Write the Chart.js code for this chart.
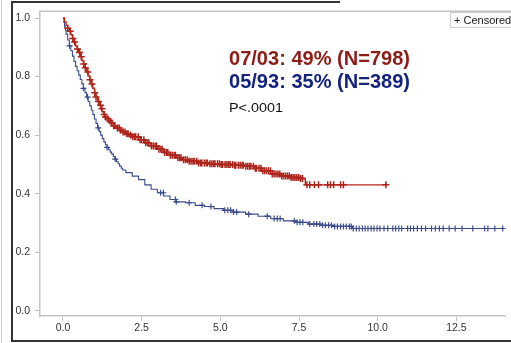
<!DOCTYPE html>
<html>
<head>
<meta charset="utf-8">
<script src="https://cdn.jsdelivr.net/npm/chart.js@4"></script>
<style>
    html, body { margin: 0; padding: 0; background: #fff; }
    #wrap { position: relative; width: 511px; height: 343px; }
</style>
</head>
<body>
<div id="wrap"><canvas id="kmChart"></canvas></div>
<script>
// Survival curve, era 07/03 (years, survival probability)
const redTime = [0, 0.05, 0.1, 0.15, 0.2, 0.25, 0.3, 0.35, 0.4, 0.45, 0.5, 0.55, 0.6, 0.65, 0.7, 0.75, 0.8, 0.85, 0.9, 0.95,
    1.0, 1.05, 1.1, 1.15, 1.2, 1.25, 1.3, 1.35, 1.4, 1.45, 1.5, 1.6, 1.7, 1.8, 1.9, 2.0, 2.1,
    2.2, 2.4, 2.6, 2.8, 3.0, 3.2, 3.4, 3.6, 3.8, 4.0, 4.3, 4.6, 5.0, 5.4, 5.8, 6.1, 6.3, 6.6, 6.9, 7.2, 7.5, 7.7, 10.26];
const redSurv = [1.0, 0.987, 0.975, 0.965, 0.955, 0.943, 0.93, 0.918, 0.905, 0.894, 0.882, 0.868, 0.855, 0.843, 0.83, 0.816, 0.802, 0.789, 0.775, 0.76,
    0.745, 0.73, 0.715, 0.702, 0.69, 0.68, 0.67, 0.662, 0.655, 0.648, 0.642, 0.632, 0.624, 0.617, 0.611, 0.605, 0.6,
    0.594, 0.584, 0.574, 0.563, 0.552, 0.541, 0.531, 0.523, 0.516, 0.511, 0.505, 0.502, 0.5, 0.497, 0.494, 0.487, 0.478, 0.467, 0.46, 0.455, 0.452, 0.43, 0.43];

// Survival curve, era 05/93
const blueTime = [0, 0.03, 0.05, 0.08, 0.1, 0.15, 0.2, 0.25, 0.3, 0.35, 0.4, 0.45, 0.5, 0.55, 0.6, 0.65, 0.7, 0.75, 0.8, 0.85, 0.9, 0.95,
    1.0, 1.05, 1.1, 1.15, 1.2, 1.25, 1.3, 1.35, 1.4, 1.45, 1.5, 1.55, 1.6, 1.65, 1.7, 1.75, 1.8, 1.85, 1.9, 2.0,
    2.2, 2.4, 2.6, 2.8, 3.0, 3.2, 3.4, 3.6, 3.9, 4.2, 4.5, 4.8, 5.1, 5.4, 5.8, 6.2, 6.6, 7.0, 7.4, 7.8, 8.2, 8.6, 9.2, 14.1];
const blueSurv = [1.0, 0.985, 0.97, 0.957, 0.945, 0.925, 0.905, 0.888, 0.87, 0.852, 0.835, 0.82, 0.805, 0.79, 0.775, 0.76, 0.745, 0.73, 0.715, 0.7, 0.685, 0.67,
    0.655, 0.64, 0.625, 0.612, 0.6, 0.588, 0.577, 0.567, 0.558, 0.55, 0.542, 0.535, 0.527, 0.518, 0.51, 0.502, 0.494, 0.487, 0.481, 0.472,
    0.46, 0.448, 0.43, 0.415, 0.403, 0.392, 0.38, 0.372, 0.369, 0.36, 0.356, 0.349, 0.343, 0.337, 0.33, 0.323, 0.315, 0.307, 0.302, 0.296, 0.292, 0.288, 0.281, 0.281];

// Censoring times
const redCensor = [0.15, 0.23, 0.31, 0.37, 0.46, 0.53, 0.58, 0.66, 0.71, 0.79, 0.86, 0.92, 1.01, 1.05, 1.13, 1.19, 1.24, 1.31, 1.35, 1.43,
    1.49, 1.55, 1.61, 1.65, 1.73, 1.79, 1.83, 1.91, 1.97, 2.03, 2.07, 2.15, 2.21, 2.27, 2.31, 2.39, 2.45, 2.49, 2.57, 2.63, 2.69,
    2.73, 2.81, 2.87, 2.93, 2.97, 3.05, 3.11, 3.15, 3.23, 3.29, 3.33, 3.41, 3.47, 3.53, 3.57, 3.65, 3.71, 3.75, 3.83, 3.89, 3.95,
    4.01, 4.07, 4.13, 4.17, 4.25, 4.31, 4.37, 4.41, 4.49, 4.55, 4.59, 4.67, 4.73, 4.79, 4.83, 4.91, 4.97, 5.03, 5.07, 5.15, 5.21,
    5.27, 5.31, 5.39, 5.45, 5.49, 5.57, 5.63, 5.69, 5.73, 5.81, 5.87, 5.93, 5.97, 6.05, 6.11, 6.15, 6.23, 6.29, 6.35, 6.41, 6.47,
    6.53, 6.59, 6.65, 6.71, 6.77, 6.83, 6.89, 6.95, 7.01, 7.07, 7.13, 7.19, 7.25, 7.31, 7.37, 7.43, 7.49, 7.55, 7.61,
    7.75, 7.84, 7.99, 8.12, 8.41, 8.5, 8.6, 8.82, 8.91, 10.26];
const blueCensor = [0.21, 0.65, 0.78, 1.12, 1.40, 1.66, 3.10, 3.19, 3.57, 3.60, 4.01, 4.42, 4.70, 5.14, 5.24, 5.33, 5.42, 5.52,
    5.90, 6.49, 6.71, 6.81, 6.90, 7.35, 7.44, 7.53, 7.62, 7.84, 7.97, 8.06, 8.16, 8.25, 8.34, 8.44, 8.53, 8.63, 8.72, 8.82, 8.91,
    9.00, 9.10, 9.16, 9.22, 9.32, 9.41, 9.51, 9.60, 9.69, 9.79, 9.88, 9.98, 10.07, 10.20, 10.32, 10.48, 10.57, 10.67, 10.76,
    10.95, 11.04, 11.14, 11.26, 11.39, 11.52, 11.71, 11.83, 11.96, 12.08, 12.27, 12.46, 12.68, 13.02, 13.40, 13.50, 13.72, 13.97];

const xTicks = [0, 2.5, 5, 7.5, 10, 12.5];
const yTicks = [0, 0.2, 0.4, 0.6, 0.8, 1.0];

const notes = [
    { text: '07/03: 49% (N=798)', color: '#8c1c17' },
    { text: '05/93: 35% (N=389)', color: '#14237f' },
    { text: 'P<.0001', color: '#111' }
];

const RED = '#b3261c';
const BLUE = '#3b4b8c';

// step-function value at time t (KM style: holds until the next event)
function survAt(times, surv, t) {
    let s = surv[0];
    for (let i = 0; i < times.length; i++) {
        if (times[i] <= t) s = surv[i];
        else break;
    }
    return s;
}

function curvePoints(times, surv) {
    return times.map((t, i) => ({ x: t, y: surv[i] }));
}

function censorPoints(cens, times, surv) {
    return cens.map(t => ({ x: t, y: survAt(times, surv, t) }));
}

// outer frame, top border of the plot, legend box and the text block
const decorPlugin = {
    id: 'decor',
    afterDraw(chart) {
        const ctx = chart.ctx;
        const area = chart.chartArea;
        ctx.save();

        // plot top border
        ctx.strokeStyle = '#c4c4c4';
        ctx.lineWidth = 1.5;
        ctx.beginPath();
        ctx.moveTo(area.left, area.top);
        ctx.lineTo(chart.width, area.top);
        ctx.stroke();

        // outer dark frame
        ctx.strokeStyle = '#333';
        ctx.lineWidth = 2;
        ctx.beginPath();
        ctx.moveTo(340, 2);
        ctx.lineTo(12, 2);
        ctx.lineTo(12, 341);
        ctx.lineTo(chart.width, 341);
        ctx.stroke();
        ctx.strokeStyle = '#d0d0d0';
        ctx.lineWidth = 1;
        ctx.beginPath();
        ctx.moveTo(1.5, 0);
        ctx.lineTo(1.5, chart.height);
        ctx.stroke();

        // legend box
        ctx.fillStyle = '#fafafa';
        ctx.fillRect(450.5, 12.5, 70, 15);
        ctx.strokeStyle = '#cfcfcf';
        ctx.lineWidth = 1;
        ctx.strokeRect(450.5, 12.5, 70, 15);
        ctx.fillStyle = '#222';
        ctx.font = '11px "Liberation Sans", Arial, sans-serif';
        ctx.textBaseline = 'alphabetic';
        ctx.textAlign = 'left';
        ctx.fillText('+ Censored', 454, 24);

        // annotation block
        const fitText = (txt, x, y, font, color, width) => {
            ctx.font = font;
            ctx.fillStyle = color;
            const w = ctx.measureText(txt).width;
            ctx.save();
            ctx.translate(x, y);
            ctx.scale(width / w, 1);
            ctx.fillText(txt, 0, 0);
            ctx.restore();
        };
        fitText(notes[0].text, 229, 65, 'bold 21px "Liberation Sans", Arial, sans-serif', notes[0].color, 181);
        fitText(notes[1].text, 229, 88, 'bold 21px "Liberation Sans", Arial, sans-serif', notes[1].color, 181);
        fitText(notes[2].text, 229, 112, '13.5px "Liberation Sans", Arial, sans-serif', notes[2].color, 54);

        ctx.restore();
    }
};

const ctx = document.getElementById('kmChart').getContext('2d');
new Chart(ctx, {
    type: 'scatter',
    data: {
        datasets: [
            {
                label: '07/03',
                data: curvePoints(redTime, redSurv),
                showLine: true,
                stepped: true,
                borderColor: RED,
                borderWidth: 1.4,
                pointRadius: 0
            },
            {
                label: '07/03 censored',
                data: censorPoints(redCensor, redTime, redSurv),
                pointStyle: 'cross',
                pointRadius: 3.5,
                borderColor: '#a8231a',
                borderWidth: 1.5
            },
            {
                label: '05/93',
                data: curvePoints(blueTime, blueSurv),
                showLine: true,
                stepped: true,
                borderColor: BLUE,
                borderWidth: 1.1,
                pointRadius: 0
            },
            {
                label: '05/93 censored',
                data: censorPoints(blueCensor, blueTime, blueSurv),
                pointStyle: 'cross',
                pointRadius: 3,
                borderColor: BLUE,
                borderWidth: 1.2
            }
        ]
    },
    options: {
        responsive: true,
        maintainAspectRatio: false,
        animation: false,
        layout: { padding: { top: 9, left: 0, right: 0, bottom: 0 } },
        plugins: {
            legend: { display: false },
            tooltip: { enabled: false }
        },
        scales: {
            x: {
                type: 'linear',
                min: -0.73,
                max: 14.06,
                afterBuildTicks: function(scale) {
                    scale.ticks = xTicks.map(v => ({ value: v }));
                },
                afterFit: function(scale) {
                    scale.height = 27;
                },
                border: { color: '#c4c4c4', width: 1.5 },
                grid: { drawOnChartArea: false, tickLength: 5, color: '#c4c4c4' },
                ticks: {
                    color: '#333',
                    padding: 1,
                    maxRotation: 0,
                    font: { family: '"Liberation Sans", Arial, sans-serif', size: 10.5 },
                    callback: function(value) {
                        return value.toFixed(1);
                    }
                }
            },
            y: {
                type: 'linear',
                min: -0.018,
                max: 1.023,
                afterBuildTicks: function(scale) {
                    scale.ticks = yTicks.map(v => ({ value: v }));
                },
                afterFit: function(scale) {
                    scale.width = 40;
                },
                border: { color: '#c4c4c4', width: 1.5 },
                grid: { drawOnChartArea: false, tickLength: 5, color: '#c4c4c4' },
                ticks: {
                    color: '#333',
                    padding: 5,
                    font: { family: '"Liberation Sans", Arial, sans-serif', size: 10.5 },
                    callback: function(value) {
                        return value.toFixed(1);
                    }
                }
            }
        }
    },
    plugins: [decorPlugin]
});
</script>
</body>
</html>
